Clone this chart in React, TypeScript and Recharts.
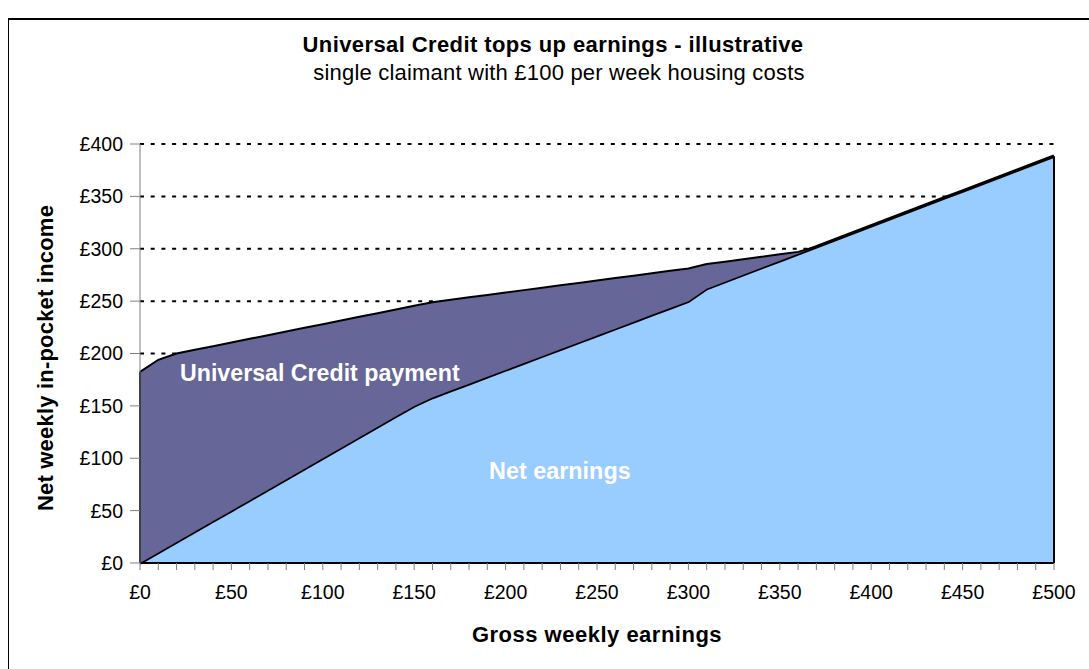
import { AreaChart, Area, XAxis, YAxis, CartesianGrid, ReferenceLine } from 'recharts'

// gross weekly earnings, £10 steps
const gross = [
  0, 10, 20, 30, 40, 50, 60, 70, 80, 90, 100, 110, 120, 130, 140, 150, 160, 170, 180, 190, 200, 210, 220, 230, 240, 250,
  260, 270, 280, 290, 300, 310, 320, 330, 340, 350, 360, 370, 380, 390, 400, 410, 420, 430, 440, 450, 460, 470, 480, 490,
  500,
]

const netEarnings = [
  0, 10, 20, 30, 40, 50, 60, 70, 80, 90, 100, 110, 120, 130, 140, 150, 158, 164.6, 171.1, 177.7, 184.3, 190.9, 197.4,
  204, 210.6, 217.1, 223.7, 230.3, 236.9, 243.4, 250, 261.9, 268.6, 275.2, 281.9, 288.5, 295.2, 301.9, 308.5, 315.2,
  321.8, 328.5, 335.1, 341.8, 348.5, 355.1, 361.8, 368.4, 375.1, 381.8, 388.4,
]

const ucPayment = [
  182.5, 184, 180, 173.5, 167, 160.5, 154, 147.5, 141, 134.5, 128, 121.5, 115, 108.5, 102, 95.5, 91, 86.7, 82.5, 78.2,
  73.9, 69.6, 65.4, 61.1, 56.8, 52.6, 48.3, 44, 39.7, 35.5, 31.2, 23.5, 19.1, 14.8, 10.5, 6.2, 1.8, 0, 0, 0, 0, 0, 0, 0,
  0, 0, 0, 0, 0, 0, 0,
]

const xLabelTicks = [0, 50, 100, 150, 200, 250, 300, 350, 400, 450, 500]
const yTicks = [0, 50, 100, 150, 200, 250, 300, 350, 400]

const data = gross.map((g, i) => ({ gross: g, net: netEarnings[i], uc: ucPayment[i] }))

const FONT = 'Arial, "Liberation Sans", sans-serif'

function XTick(props: any) {
  const { x, y, payload } = props
  if (!xLabelTicks.includes(payload.value)) return null
  return (
    <text x={x} y={y} dy='0.71em' textAnchor='middle' fontSize={19.5} fontFamily={FONT} fill='#000'>
      £{payload.value}
    </text>
  )
}

export default function App() {
  const lastNet = netEarnings[netEarnings.length - 1]
  const firstTotal = netEarnings[0] + ucPayment[0]
  return (
    <div
      style={{
        position: 'absolute',
        left: 8,
        top: 18,
        width: 1081,
        height: 651,
        boxSizing: 'border-box',
        borderLeft: '1px solid #000',
        borderTop: '2px solid #000',
        fontFamily: FONT,
        background: '#fff',
      }}
    >
      <div style={{ position: 'absolute', left: 194, width: 700, top: 13, textAlign: 'center', fontSize: 22, fontWeight: 'bold', letterSpacing: 0.4, lineHeight: '24px' }}>
        Universal Credit tops up earnings - illustrative
      </div>
      <div style={{ position: 'absolute', left: 200, width: 700, top: 41, textAlign: 'center', fontSize: 22, letterSpacing: 0.2, lineHeight: '24px' }}>
        single claimant with £100 per week housing costs
      </div>

      <AreaChart width={1080} height={649} data={data} margin={{ top: 124, right: 35, bottom: 66, left: 0 }}>
        <CartesianGrid horizontal vertical={false} stroke='#000' strokeWidth={2} strokeDasharray='4 6.7' />
        <XAxis
          dataKey='gross'
          type='number'
          domain={[0, 500]}
          ticks={gross}
          interval={0}
          height={40}
          tickSize={7}
          tickMargin={15}
          tick={<XTick />}
          axisLine={{ stroke: '#000', strokeWidth: 2 }}
          tickLine={{ stroke: '#808080' }}
        />
        <YAxis
          type='number'
          domain={[0, 400]}
          ticks={yTicks}
          interval={0}
          width={131}
          tickSize={10}
          tickMargin={7}
          tickFormatter={(v: number) => `£${v}`}
          tick={{ fontSize: 19.5, fontFamily: FONT, fill: '#000' }}
          axisLine={{ stroke: '#808080' }}
          tickLine={{ stroke: '#808080' }}
        />
        <Area
          type='linear'
          dataKey='net'
          stackId='1'
          fill='#99CCFF'
          fillOpacity={1}
          stroke='#000'
          strokeWidth={3.5}
          isAnimationActive={false}
        />
        <Area
          type='linear'
          dataKey='uc'
          stackId='1'
          fill='#666699'
          fillOpacity={1}
          stroke='#000'
          strokeWidth={2}
          isAnimationActive={false}
        />
        <ReferenceLine
          segment={[
            { x: 0, y: 0 },
            { x: 0, y: firstTotal },
          ]}
          stroke='#000'
          strokeWidth={2}
        />
        <ReferenceLine
          segment={[
            { x: 500, y: 0 },
            { x: 500, y: lastNet },
          ]}
          stroke='#000'
          strokeWidth={2}
        />
      </AreaChart>

      <div style={{ position: 'absolute', left: 171, top: 341, fontSize: 23.2, fontWeight: 'bold', color: '#fff', lineHeight: '24px', whiteSpace: 'nowrap' }}>
        Universal Credit payment
      </div>
      <div style={{ position: 'absolute', left: 480, top: 439, fontSize: 23.4, fontWeight: 'bold', color: '#fff', lineHeight: '24px', whiteSpace: 'nowrap' }}>
        Net earnings
      </div>
      <div style={{ position: 'absolute', left: 238, width: 700, top: 603, textAlign: 'center', fontSize: 22, fontWeight: 'bold', letterSpacing: 0.5, lineHeight: '24px' }}>
        Gross weekly earnings
      </div>
      <div
        style={{
          position: 'absolute',
          left: 37 - 200,
          width: 400,
          top: 338 - 12,
          textAlign: 'center',
          fontSize: 22,
          fontWeight: 'bold',
          letterSpacing: 0.2,
          lineHeight: '24px',
          transform: 'rotate(-90deg)',
          whiteSpace: 'nowrap',
        }}
      >
        Net weekly in-pocket income
      </div>
    </div>
  )
}
